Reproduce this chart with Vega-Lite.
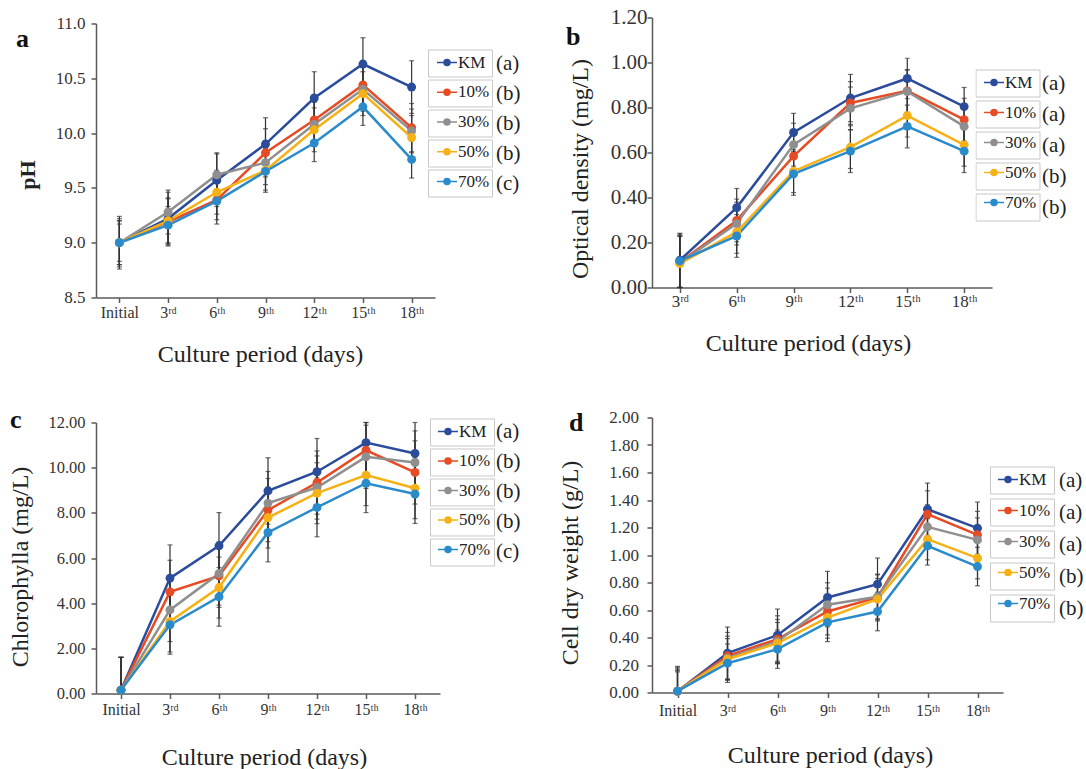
{
  "$schema": "https://vega.github.io/schema/vega-lite/v6.json",
  "background": "white",
  "padding": {"left": 8, "top": 6.5, "right": 5, "bottom": 5},
  "config": {
    "font": "Liberation Serif",
    "view": {"stroke": null},
    "axis": {"grid": false, "domainColor": "#5a5a5a", "domainWidth": 1.5, "tickColor": "#5a5a5a", "tickWidth": 1.5, "tickSize": 5, "labelFont": "Liberation Serif", "labelColor": "#333333", "titleFont": "Liberation Serif", "titleFontWeight": "normal", "titleColor": "#222222"},
    "legend": {"labelFont": "Liberation Serif", "labelColor": "#222222"},
    "title": {"font": "Liberation Serif"}
  },
  "datasets": {
    "pa": [
      {"day":"Initial","series":"KM","tag":"KM|(a)","v":9.00,"lo":8.76,"hi":9.24},
      {"day":"3ʳᵈ","series":"KM","tag":"KM|(a)","v":9.22,"lo":8.98,"hi":9.46},
      {"day":"6ᵗʰ","series":"KM","tag":"KM|(a)","v":9.57,"lo":9.33,"hi":9.81},
      {"day":"9ᵗʰ","series":"KM","tag":"KM|(a)","v":9.90,"lo":9.66,"hi":10.14},
      {"day":"12ᵗʰ","series":"KM","tag":"KM|(a)","v":10.32,"lo":10.08,"hi":10.56},
      {"day":"15ᵗʰ","series":"KM","tag":"KM|(a)","v":10.63,"lo":10.39,"hi":10.87},
      {"day":"18ᵗʰ","series":"KM","tag":"KM|(a)","v":10.42,"lo":10.18,"hi":10.66},
      {"day":"Initial","series":"10%","tag":"10%|(b)","v":9.00,"lo":8.78,"hi":9.22},
      {"day":"3ʳᵈ","series":"10%","tag":"10%|(b)","v":9.19,"lo":8.97,"hi":9.41},
      {"day":"6ᵗʰ","series":"10%","tag":"10%|(b)","v":9.39,"lo":9.17,"hi":9.61},
      {"day":"9ᵗʰ","series":"10%","tag":"10%|(b)","v":9.82,"lo":9.60,"hi":10.04},
      {"day":"12ᵗʰ","series":"10%","tag":"10%|(b)","v":10.12,"lo":9.90,"hi":10.34},
      {"day":"15ᵗʰ","series":"10%","tag":"10%|(b)","v":10.44,"lo":10.22,"hi":10.66},
      {"day":"18ᵗʰ","series":"10%","tag":"10%|(b)","v":10.05,"lo":9.83,"hi":10.27},
      {"day":"Initial","series":"30%","tag":"30%|(b)","v":9.00,"lo":8.80,"hi":9.20},
      {"day":"3ʳᵈ","series":"30%","tag":"30%|(b)","v":9.28,"lo":9.08,"hi":9.48},
      {"day":"6ᵗʰ","series":"30%","tag":"30%|(b)","v":9.62,"lo":9.42,"hi":9.82},
      {"day":"9ᵗʰ","series":"30%","tag":"30%|(b)","v":9.73,"lo":9.53,"hi":9.93},
      {"day":"12ᵗʰ","series":"30%","tag":"30%|(b)","v":10.08,"lo":9.88,"hi":10.28},
      {"day":"15ᵗʰ","series":"30%","tag":"30%|(b)","v":10.40,"lo":10.20,"hi":10.60},
      {"day":"18ᵗʰ","series":"30%","tag":"30%|(b)","v":10.02,"lo":9.82,"hi":10.22},
      {"day":"Initial","series":"50%","tag":"50%|(b)","v":9.00,"lo":8.80,"hi":9.20},
      {"day":"3ʳᵈ","series":"50%","tag":"50%|(b)","v":9.20,"lo":9.00,"hi":9.40},
      {"day":"6ᵗʰ","series":"50%","tag":"50%|(b)","v":9.46,"lo":9.26,"hi":9.66},
      {"day":"9ᵗʰ","series":"50%","tag":"50%|(b)","v":9.66,"lo":9.46,"hi":9.86},
      {"day":"12ᵗʰ","series":"50%","tag":"50%|(b)","v":10.03,"lo":9.83,"hi":10.23},
      {"day":"15ᵗʰ","series":"50%","tag":"50%|(b)","v":10.36,"lo":10.16,"hi":10.56},
      {"day":"18ᵗʰ","series":"50%","tag":"50%|(b)","v":9.96,"lo":9.76,"hi":10.16},
      {"day":"Initial","series":"70%","tag":"70%|(c)","v":9.00,"lo":8.83,"hi":9.17},
      {"day":"3ʳᵈ","series":"70%","tag":"70%|(c)","v":9.16,"lo":8.99,"hi":9.33},
      {"day":"6ᵗʰ","series":"70%","tag":"70%|(c)","v":9.38,"lo":9.21,"hi":9.55},
      {"day":"9ᵗʰ","series":"70%","tag":"70%|(c)","v":9.65,"lo":9.48,"hi":9.82},
      {"day":"12ᵗʰ","series":"70%","tag":"70%|(c)","v":9.91,"lo":9.74,"hi":10.08},
      {"day":"15ᵗʰ","series":"70%","tag":"70%|(c)","v":10.24,"lo":10.07,"hi":10.41},
      {"day":"18ᵗʰ","series":"70%","tag":"70%|(c)","v":9.76,"lo":9.59,"hi":9.93}
    ],
    "pb": [
      {"day":"3ʳᵈ","series":"KM","tag":"KM|(a)","v":0.121,"lo":0.001,"hi":0.241},
      {"day":"6ᵗʰ","series":"KM","tag":"KM|(a)","v":0.355,"lo":0.27,"hi":0.44},
      {"day":"9ᵗʰ","series":"KM","tag":"KM|(a)","v":0.689,"lo":0.604,"hi":0.774},
      {"day":"12ᵗʰ","series":"KM","tag":"KM|(a)","v":0.842,"lo":0.737,"hi":0.947},
      {"day":"15ᵗʰ","series":"KM","tag":"KM|(a)","v":0.929,"lo":0.839,"hi":1.019},
      {"day":"18ᵗʰ","series":"KM","tag":"KM|(a)","v":0.804,"lo":0.719,"hi":0.889},
      {"day":"3ʳᵈ","series":"10%","tag":"10%|(a)","v":0.112,"lo":0.0,"hi":0.232},
      {"day":"6ᵗʰ","series":"10%","tag":"10%|(a)","v":0.298,"lo":0.203,"hi":0.393},
      {"day":"9ᵗʰ","series":"10%","tag":"10%|(a)","v":0.584,"lo":0.489,"hi":0.679},
      {"day":"12ᵗʰ","series":"10%","tag":"10%|(a)","v":0.820,"lo":0.725,"hi":0.915},
      {"day":"15ᵗʰ","series":"10%","tag":"10%|(a)","v":0.874,"lo":0.779,"hi":0.969},
      {"day":"18ᵗʰ","series":"10%","tag":"10%|(a)","v":0.746,"lo":0.651,"hi":0.841},
      {"day":"3ʳᵈ","series":"30%","tag":"30%|(a)","v":0.110,"lo":0.0,"hi":0.23},
      {"day":"6ᵗʰ","series":"30%","tag":"30%|(a)","v":0.284,"lo":0.189,"hi":0.379},
      {"day":"9ᵗʰ","series":"30%","tag":"30%|(a)","v":0.635,"lo":0.54,"hi":0.73},
      {"day":"12ᵗʰ","series":"30%","tag":"30%|(a)","v":0.796,"lo":0.701,"hi":0.891},
      {"day":"15ᵗʰ","series":"30%","tag":"30%|(a)","v":0.871,"lo":0.776,"hi":0.966},
      {"day":"18ᵗʰ","series":"30%","tag":"30%|(a)","v":0.716,"lo":0.621,"hi":0.811},
      {"day":"3ʳᵈ","series":"50%","tag":"50%|(b)","v":0.106,"lo":0.0,"hi":0.226},
      {"day":"6ᵗʰ","series":"50%","tag":"50%|(b)","v":0.247,"lo":0.152,"hi":0.342},
      {"day":"9ᵗʰ","series":"50%","tag":"50%|(b)","v":0.517,"lo":0.422,"hi":0.612},
      {"day":"12ᵗʰ","series":"50%","tag":"50%|(b)","v":0.624,"lo":0.529,"hi":0.719},
      {"day":"15ᵗʰ","series":"50%","tag":"50%|(b)","v":0.764,"lo":0.669,"hi":0.859},
      {"day":"18ᵗʰ","series":"50%","tag":"50%|(b)","v":0.634,"lo":0.539,"hi":0.729},
      {"day":"3ʳᵈ","series":"70%","tag":"70%|(b)","v":0.118,"lo":0.0,"hi":0.238},
      {"day":"6ᵗʰ","series":"70%","tag":"70%|(b)","v":0.229,"lo":0.134,"hi":0.324},
      {"day":"9ᵗʰ","series":"70%","tag":"70%|(b)","v":0.505,"lo":0.41,"hi":0.6},
      {"day":"12ᵗʰ","series":"70%","tag":"70%|(b)","v":0.606,"lo":0.511,"hi":0.701},
      {"day":"15ᵗʰ","series":"70%","tag":"70%|(b)","v":0.716,"lo":0.621,"hi":0.811},
      {"day":"18ᵗʰ","series":"70%","tag":"70%|(b)","v":0.606,"lo":0.511,"hi":0.701}
    ],
    "pc": [
      {"day":"Initial","series":"KM","tag":"KM|(a)","v":0.15,"lo":0.0,"hi":1.6},
      {"day":"3ʳᵈ","series":"KM","tag":"KM|(a)","v":5.11,"lo":3.64,"hi":6.58},
      {"day":"6ᵗʰ","series":"KM","tag":"KM|(a)","v":6.54,"lo":5.07,"hi":8.01},
      {"day":"9ᵗʰ","series":"KM","tag":"KM|(a)","v":8.97,"lo":7.5,"hi":10.44},
      {"day":"12ᵗʰ","series":"KM","tag":"KM|(a)","v":9.82,"lo":8.35,"hi":11.29},
      {"day":"15ᵗʰ","series":"KM","tag":"KM|(a)","v":11.11,"lo":9.64,"hi":12.0},
      {"day":"18ᵗʰ","series":"KM","tag":"KM|(a)","v":10.63,"lo":9.16,"hi":12.0},
      {"day":"Initial","series":"10%","tag":"10%|(b)","v":0.15,"lo":0.0,"hi":1.6},
      {"day":"3ʳᵈ","series":"10%","tag":"10%|(b)","v":4.50,"lo":3.1,"hi":5.9},
      {"day":"6ᵗʰ","series":"10%","tag":"10%|(b)","v":5.21,"lo":3.81,"hi":6.61},
      {"day":"9ᵗʰ","series":"10%","tag":"10%|(b)","v":8.12,"lo":6.72,"hi":9.52},
      {"day":"12ᵗʰ","series":"10%","tag":"10%|(b)","v":9.34,"lo":7.94,"hi":10.74},
      {"day":"15ᵗʰ","series":"10%","tag":"10%|(b)","v":10.77,"lo":9.37,"hi":12.0},
      {"day":"18ᵗʰ","series":"10%","tag":"10%|(b)","v":9.79,"lo":8.39,"hi":11.19},
      {"day":"Initial","series":"30%","tag":"30%|(b)","v":0.15,"lo":0.0,"hi":1.6},
      {"day":"3ʳᵈ","series":"30%","tag":"30%|(b)","v":3.70,"lo":2.3,"hi":5.1},
      {"day":"6ᵗʰ","series":"30%","tag":"30%|(b)","v":5.31,"lo":3.91,"hi":6.71},
      {"day":"9ᵗʰ","series":"30%","tag":"30%|(b)","v":8.43,"lo":7.03,"hi":9.83},
      {"day":"12ᵗʰ","series":"30%","tag":"30%|(b)","v":9.12,"lo":7.72,"hi":10.52},
      {"day":"15ᵗʰ","series":"30%","tag":"30%|(b)","v":10.48,"lo":9.08,"hi":11.88},
      {"day":"18ᵗʰ","series":"30%","tag":"30%|(b)","v":10.23,"lo":8.83,"hi":11.63},
      {"day":"Initial","series":"50%","tag":"50%|(b)","v":0.15,"lo":0.0,"hi":1.6},
      {"day":"3ʳᵈ","series":"50%","tag":"50%|(b)","v":3.19,"lo":1.84,"hi":4.54},
      {"day":"6ᵗʰ","series":"50%","tag":"50%|(b)","v":4.69,"lo":3.34,"hi":6.04},
      {"day":"9ᵗʰ","series":"50%","tag":"50%|(b)","v":7.79,"lo":6.44,"hi":9.14},
      {"day":"12ᵗʰ","series":"50%","tag":"50%|(b)","v":8.87,"lo":7.52,"hi":10.22},
      {"day":"15ᵗʰ","series":"50%","tag":"50%|(b)","v":9.67,"lo":8.32,"hi":11.02},
      {"day":"18ᵗʰ","series":"50%","tag":"50%|(b)","v":9.09,"lo":7.74,"hi":10.44},
      {"day":"Initial","series":"70%","tag":"70%|(c)","v":0.15,"lo":0.0,"hi":1.6},
      {"day":"3ʳᵈ","series":"70%","tag":"70%|(c)","v":3.04,"lo":1.74,"hi":4.34},
      {"day":"6ᵗʰ","series":"70%","tag":"70%|(c)","v":4.28,"lo":2.98,"hi":5.58},
      {"day":"9ᵗʰ","series":"70%","tag":"70%|(c)","v":7.13,"lo":5.83,"hi":8.43},
      {"day":"12ᵗʰ","series":"70%","tag":"70%|(c)","v":8.24,"lo":6.94,"hi":9.54},
      {"day":"15ᵗʰ","series":"70%","tag":"70%|(c)","v":9.31,"lo":8.01,"hi":10.61},
      {"day":"18ᵗʰ","series":"70%","tag":"70%|(c)","v":8.83,"lo":7.53,"hi":10.13}
    ],
    "pd": [
      {"day":"Initial","series":"KM","tag":"KM|(a)","v":0.01,"lo":0.0,"hi":0.19},
      {"day":"3ʳᵈ","series":"KM","tag":"KM|(a)","v":0.286,"lo":0.096,"hi":0.476},
      {"day":"6ᵗʰ","series":"KM","tag":"KM|(a)","v":0.417,"lo":0.227,"hi":0.607},
      {"day":"9ᵗʰ","series":"KM","tag":"KM|(a)","v":0.691,"lo":0.501,"hi":0.881},
      {"day":"12ᵗʰ","series":"KM","tag":"KM|(a)","v":0.788,"lo":0.598,"hi":0.978},
      {"day":"15ᵗʰ","series":"KM","tag":"KM|(a)","v":1.333,"lo":1.143,"hi":1.523},
      {"day":"18ᵗʰ","series":"KM","tag":"KM|(a)","v":1.195,"lo":1.005,"hi":1.385},
      {"day":"Initial","series":"10%","tag":"10%|(a)","v":0.01,"lo":0.0,"hi":0.18},
      {"day":"3ʳᵈ","series":"10%","tag":"10%|(a)","v":0.267,"lo":0.097,"hi":0.437},
      {"day":"6ᵗʰ","series":"10%","tag":"10%|(a)","v":0.388,"lo":0.218,"hi":0.558},
      {"day":"9ᵗʰ","series":"10%","tag":"10%|(a)","v":0.589,"lo":0.419,"hi":0.759},
      {"day":"12ᵗʰ","series":"10%","tag":"10%|(a)","v":0.691,"lo":0.521,"hi":0.861},
      {"day":"15ᵗʰ","series":"10%","tag":"10%|(a)","v":1.297,"lo":1.127,"hi":1.467},
      {"day":"18ᵗʰ","series":"10%","tag":"10%|(a)","v":1.147,"lo":0.977,"hi":1.317},
      {"day":"Initial","series":"30%","tag":"30%|(a)","v":0.01,"lo":0.0,"hi":0.17},
      {"day":"3ʳᵈ","series":"30%","tag":"30%|(a)","v":0.25,"lo":0.09,"hi":0.41},
      {"day":"6ᵗʰ","series":"30%","tag":"30%|(a)","v":0.371,"lo":0.211,"hi":0.531},
      {"day":"9ᵗʰ","series":"30%","tag":"30%|(a)","v":0.638,"lo":0.478,"hi":0.798},
      {"day":"12ᵗʰ","series":"30%","tag":"30%|(a)","v":0.696,"lo":0.536,"hi":0.856},
      {"day":"15ᵗʰ","series":"30%","tag":"30%|(a)","v":1.205,"lo":1.045,"hi":1.365},
      {"day":"18ᵗʰ","series":"30%","tag":"30%|(a)","v":1.11,"lo":0.95,"hi":1.27},
      {"day":"Initial","series":"50%","tag":"50%|(b)","v":0.01,"lo":0.0,"hi":0.16},
      {"day":"3ʳᵈ","series":"50%","tag":"50%|(b)","v":0.242,"lo":0.092,"hi":0.392},
      {"day":"6ᵗʰ","series":"50%","tag":"50%|(b)","v":0.359,"lo":0.209,"hi":0.509},
      {"day":"9ᵗʰ","series":"50%","tag":"50%|(b)","v":0.545,"lo":0.395,"hi":0.695},
      {"day":"12ᵗʰ","series":"50%","tag":"50%|(b)","v":0.679,"lo":0.529,"hi":0.829},
      {"day":"15ᵗʰ","series":"50%","tag":"50%|(b)","v":1.115,"lo":0.965,"hi":1.265},
      {"day":"18ᵗʰ","series":"50%","tag":"50%|(b)","v":0.977,"lo":0.827,"hi":1.127},
      {"day":"Initial","series":"70%","tag":"70%|(b)","v":0.01,"lo":0.0,"hi":0.15},
      {"day":"3ʳᵈ","series":"70%","tag":"70%|(b)","v":0.213,"lo":0.073,"hi":0.353},
      {"day":"6ᵗʰ","series":"70%","tag":"70%|(b)","v":0.315,"lo":0.175,"hi":0.455},
      {"day":"9ᵗʰ","series":"70%","tag":"70%|(b)","v":0.51,"lo":0.37,"hi":0.65},
      {"day":"12ᵗʰ","series":"70%","tag":"70%|(b)","v":0.589,"lo":0.449,"hi":0.729},
      {"day":"15ᵗʰ","series":"70%","tag":"70%|(b)","v":1.067,"lo":0.927,"hi":1.207},
      {"day":"18ᵗʰ","series":"70%","tag":"70%|(b)","v":0.916,"lo":0.776,"hi":1.056}
    ]
  },
  "columns": 2,
  "align": "each",
  "spacing": {"row": 120, "column": 212},
  "bounds": "flush",
  "resolve": {"scale": {"color": "independent", "shape": "independent"}, "legend": {"color": "independent", "shape": "independent"}},
  "concat": [
    {
      "width": 339, "height": 280,
      "data": {"name": "pa"},
      "title": {"text": "a", "anchor": "start", "frame": "group", "fontSize": 26, "fontWeight": "bold", "baseline": "alphabetic", "offset": 0, "dx": -80, "dy": 58, "color": "#111111"},
      "encoding": {
        "x": {"field": "day", "type": "ordinal", "scale": {"type": "point", "padding": 0.48, "domain": ["Initial","3ʳᵈ","6ᵗʰ","9ᵗʰ","12ᵗʰ","15ᵗʰ","18ᵗʰ"]}, "axis": {"title": "Culture period (days)", "labelAngle": 0, "labelFontSize": 16, "labelPadding": 2, "titleFontSize": 24, "titleX": 164, "titleY": 64, "titleBaseline": "alphabetic"}},
        "y": {"field": "v", "type": "quantitative", "title": "pH", "scale": {"domain": [8.5, 11], "range": [280, 6], "nice": false, "zero": false}, "axis": {"values": [8.5, 9, 9.5, 10, 10.5, 11], "format": ".1f", "labelFontSize": 17, "labelPadding": 6, "titleFontWeight": "bold", "titleFontSize": 22, "titleX": -69, "titleY": 157, "titleBaseline": "middle", "titleAngle": 270, "titleAlign": "center"}}
      },
      "layer": [
        {"mark": {"type": "point", "opacity": 0, "filled": false, "color": "#c8c8c8", "strokeWidth": 1},
          "encoding": {"shape": {"field": "tag", "type": "nominal", "scale": {"domain": ["KM|(a)","10%|(b)","30%|(b)","50%|(b)","70%|(c)"], "range": ["M-2.37,-1H2.37V1H-2.37Z","M-2.37,-1H2.37V1H-2.37Z","M-2.37,-1H2.37V1H-2.37Z","M-2.37,-1H2.37V1H-2.37Z","M-2.37,-1H2.37V1H-2.37Z"]},
            "legend": {"title": null, "orient": "none", "direction": "vertical", "legendX": 332, "legendY": 31, "padding": 0, "rowPadding": 0, "clipHeight": 30, "symbolOffset": 18.5, "labelOffset": 21.5, "labelFontSize": 21, "labelExpr": "split(datum.label, '|')[1]", "symbolSize": 729, "symbolStrokeWidth": 1, "symbolStrokeColor": "#c8c8c8", "symbolFillColor": "transparent", "symbolOpacity": 1}}}},
        {"mark": {"type": "line", "strokeWidth": 2.5}, "encoding": {"color": {"field": "series", "type": "nominal", "scale": {"domain": ["KM","10%","30%","50%","70%"], "range": ["#2b4c9b","#e64b26","#8f8f8f","#f5b115","#2a8bcb"]},
          "legend": {"title": null, "orient": "none", "direction": "vertical", "legendX": 340, "legendY": 34, "padding": 0, "rowPadding": 10.75, "labelOffset": 0, "labelFontSize": 17, "symbolType": "M-1,0H1M-0.3,0A0.3,0.3,0,1,0,0.3,0A0.3,0.3,0,1,0,-0.3,0M-0.2,0A0.2,0.2,0,1,0,0.2,0A0.2,0.2,0,1,0,-0.2,0M-0.1,0A0.1,0.1,0,1,0,0.1,0A0.1,0.1,0,1,0,-0.1,0", "symbolSize": 400, "symbolStrokeWidth": 1.5, "symbolOpacity": 1}}}},
        {"mark": {"type": "errorbar", "ticks": true, "size": 5, "thickness": 1.2, "color": "#333333"}, "encoding": {"y": {"field": "lo", "type": "quantitative", "title": "pH"}, "y2": {"field": "hi"}}},
        {"mark": {"type": "point", "filled": true, "size": 80, "opacity": 1}, "encoding": {"color": {"field": "series", "type": "nominal", "legend": null}}}
      ]
    },
    {
      "width": 340, "height": 270,
      "data": {"name": "pb"},
      "title": {"text": "b", "anchor": "start", "frame": "group", "fontSize": 26, "fontWeight": "bold", "baseline": "alphabetic", "offset": 0, "dx": -86, "dy": 64, "color": "#111111"},
      "encoding": {
        "x": {"field": "day", "type": "ordinal", "scale": {"type": "point", "padding": 0.49, "domain": ["3ʳᵈ","6ᵗʰ","9ᵗʰ","12ᵗʰ","15ᵗʰ","18ᵗʰ"]}, "axis": {"title": "Culture period (days)", "labelAngle": 0, "labelFontSize": 17, "labelPadding": 1, "titleFontSize": 24, "titleX": 156, "titleY": 63, "titleBaseline": "alphabetic"}},
        "y": {"field": "v", "type": "quantitative", "title": "Optical density (mg/L)", "scale": {"domain": [0, 1.2], "nice": false, "zero": false}, "axis": {"values": [0, 0.2, 0.4, 0.6, 0.8, 1.0, 1.2], "format": ".2f", "labelFontSize": 21, "labelPadding": 0, "titleFontSize": 24, "titleX": -72, "titleY": 151, "titleBaseline": "middle", "titleAngle": 270, "titleAlign": "center"}}
      },
      "layer": [
        {"mark": {"type": "point", "opacity": 0, "filled": false, "color": "#c8c8c8", "strokeWidth": 1},
          "encoding": {"shape": {"field": "tag", "type": "nominal", "scale": {"domain": ["KM|(a)","10%|(a)","30%|(a)","50%|(b)","70%|(b)"], "range": ["M-2.37,-1H2.37V1H-2.37Z","M-2.37,-1H2.37V1H-2.37Z","M-2.37,-1H2.37V1H-2.37Z","M-2.37,-1H2.37V1H-2.37Z","M-2.37,-1H2.37V1H-2.37Z"]},
            "legend": {"title": null, "orient": "none", "direction": "vertical", "legendX": 323.5, "legendY": 50.9, "padding": 0, "rowPadding": 0, "clipHeight": 30.25, "symbolOffset": 18.5, "labelOffset": 20, "labelFontSize": 21, "labelExpr": "split(datum.label, '|')[1]", "symbolSize": 729, "symbolStrokeWidth": 1, "symbolStrokeColor": "#c8c8c8", "symbolFillColor": "transparent", "symbolOpacity": 1}}}},
        {"mark": {"type": "line", "strokeWidth": 2.5}, "encoding": {"color": {"field": "series", "type": "nominal", "scale": {"domain": ["KM","10%","30%","50%","70%"], "range": ["#2b4c9b","#e64b26","#8f8f8f","#f5b115","#2a8bcb"]},
          "legend": {"title": null, "orient": "none", "direction": "vertical", "legendX": 331, "legendY": 54, "padding": 0, "rowPadding": 11, "labelOffset": 0, "labelFontSize": 17, "symbolType": "M-1,0H1M-0.3,0A0.3,0.3,0,1,0,0.3,0A0.3,0.3,0,1,0,-0.3,0M-0.2,0A0.2,0.2,0,1,0,0.2,0A0.2,0.2,0,1,0,-0.2,0M-0.1,0A0.1,0.1,0,1,0,0.1,0A0.1,0.1,0,1,0,-0.1,0", "symbolSize": 400, "symbolStrokeWidth": 1.5, "symbolOpacity": 1}}}},
        {"mark": {"type": "errorbar", "ticks": true, "size": 5, "thickness": 1.2, "color": "#333333"}, "encoding": {"y": {"field": "lo", "type": "quantitative", "title": "Optical density (mg/L)"}, "y2": {"field": "hi"}}},
        {"mark": {"type": "point", "filled": true, "size": 80, "opacity": 1}, "encoding": {"color": {"field": "series", "type": "nominal", "legend": null}}}
      ]
    },
    {
      "width": 344, "height": 276,
      "data": {"name": "pc"},
      "title": {"text": "c", "anchor": "start", "frame": "group", "fontSize": 26, "fontWeight": "bold", "baseline": "alphabetic", "offset": 0, "dx": -86, "dy": 39, "color": "#111111"},
      "encoding": {
        "x": {"field": "day", "type": "ordinal", "scale": {"type": "point", "padding": 0.51, "domain": ["Initial","3ʳᵈ","6ᵗʰ","9ᵗʰ","12ᵗʰ","15ᵗʰ","18ᵗʰ"]}, "axis": {"title": "Culture period (days)", "labelAngle": 0, "labelFontSize": 16, "labelPadding": 3, "titleFontSize": 24, "titleX": 168, "titleY": 71, "titleBaseline": "alphabetic"}},
        "y": {"field": "v", "type": "quantitative", "title": "Chlorophylla (mg/L)", "scale": {"domain": [0, 12], "range": [276, 5], "nice": false, "zero": false}, "axis": {"values": [0, 2, 4, 6, 8, 10, 12], "format": ".2f", "labelFontSize": 16.5, "labelPadding": 6, "titleFontSize": 24, "titleX": -76, "titleY": 149, "titleBaseline": "middle", "titleAngle": 270, "titleAlign": "center"}}
      },
      "layer": [
        {"mark": {"type": "point", "opacity": 0, "filled": false, "color": "#c8c8c8", "strokeWidth": 1},
          "encoding": {"shape": {"field": "tag", "type": "nominal", "scale": {"domain": ["KM|(a)","10%|(b)","30%|(b)","50%|(b)","70%|(c)"], "range": ["M-2.37,-1H2.37V1H-2.37Z","M-2.37,-1H2.37V1H-2.37Z","M-2.37,-1H2.37V1H-2.37Z","M-2.37,-1H2.37V1H-2.37Z","M-2.37,-1H2.37V1H-2.37Z"]},
            "legend": {"title": null, "orient": "none", "direction": "vertical", "legendX": 334, "legendY": 0.1, "padding": 0, "rowPadding": 0, "clipHeight": 29.75, "symbolOffset": 18.5, "labelOffset": 19.5, "labelFontSize": 21, "labelExpr": "split(datum.label, '|')[1]", "symbolSize": 729, "symbolStrokeWidth": 1, "symbolStrokeColor": "#c8c8c8", "symbolFillColor": "transparent", "symbolOpacity": 1}}}},
        {"mark": {"type": "line", "strokeWidth": 2.5}, "encoding": {"color": {"field": "series", "type": "nominal", "scale": {"domain": ["KM","10%","30%","50%","70%"], "range": ["#2b4c9b","#e64b26","#8f8f8f","#f5b115","#2a8bcb"]},
          "legend": {"title": null, "orient": "none", "direction": "vertical", "legendX": 341, "legendY": 3, "padding": 0, "rowPadding": 10.5, "labelOffset": 0, "labelFontSize": 17, "symbolType": "M-1,0H1M-0.3,0A0.3,0.3,0,1,0,0.3,0A0.3,0.3,0,1,0,-0.3,0M-0.2,0A0.2,0.2,0,1,0,0.2,0A0.2,0.2,0,1,0,-0.2,0M-0.1,0A0.1,0.1,0,1,0,0.1,0A0.1,0.1,0,1,0,-0.1,0", "symbolSize": 400, "symbolStrokeWidth": 1.5, "symbolOpacity": 1}}}},
        {"mark": {"type": "errorbar", "ticks": true, "size": 5, "thickness": 1.2, "color": "#333333"}, "encoding": {"y": {"field": "lo", "type": "quantitative", "title": "Chlorophylla (mg/L)"}, "y2": {"field": "hi"}}},
        {"mark": {"type": "point", "filled": true, "size": 80, "opacity": 1}, "encoding": {"color": {"field": "series", "type": "nominal", "legend": null}}}
      ]
    },
    {
      "width": 351, "height": 275,
      "data": {"name": "pd"},
      "title": {"text": "d", "anchor": "start", "frame": "group", "fontSize": 26, "fontWeight": "bold", "baseline": "alphabetic", "offset": 0, "dx": -83, "dy": 48, "color": "#111111"},
      "encoding": {
        "x": {"field": "day", "type": "ordinal", "scale": {"type": "point", "padding": 0.51, "domain": ["Initial","3ʳᵈ","6ᵗʰ","9ᵗʰ","12ᵗʰ","15ᵗʰ","18ᵗʰ"]}, "axis": {"title": "Culture period (days)", "labelAngle": 0, "labelFontSize": 16, "labelPadding": 5, "titleFontSize": 24, "titleX": 178, "titleY": 70, "titleBaseline": "alphabetic"}},
        "y": {"field": "v", "type": "quantitative", "title": "Cell dry weight (g/L)", "scale": {"domain": [0, 2], "nice": false, "zero": false}, "axis": {"values": [0, 0.2, 0.4, 0.6, 0.8, 1.0, 1.2, 1.4, 1.6, 1.8, 2.0], "format": ".2f", "labelFontSize": 17, "labelPadding": 8.5, "titleFontSize": 24, "titleX": -82, "titleY": 145, "titleBaseline": "middle", "titleAngle": 270, "titleAlign": "center"}}
      },
      "layer": [
        {"mark": {"type": "point", "opacity": 0, "filled": false, "color": "#c8c8c8", "strokeWidth": 1},
          "encoding": {"shape": {"field": "tag", "type": "nominal", "scale": {"domain": ["KM|(a)","10%|(a)","30%|(a)","50%|(b)","70%|(b)"], "range": ["M-2.37,-1H2.37V1H-2.37Z","M-2.37,-1H2.37V1H-2.37Z","M-2.37,-1H2.37V1H-2.37Z","M-2.37,-1H2.37V1H-2.37Z","M-2.37,-1H2.37V1H-2.37Z"]},
            "legend": {"title": null, "orient": "none", "direction": "vertical", "legendX": 338, "legendY": 47.4, "padding": 0, "rowPadding": 0, "clipHeight": 31.25, "symbolOffset": 18.5, "labelOffset": 22.5, "labelFontSize": 21, "labelExpr": "split(datum.label, '|')[1]", "symbolSize": 729, "symbolStrokeWidth": 1, "symbolStrokeColor": "#c8c8c8", "symbolFillColor": "transparent", "symbolOpacity": 1}}}},
        {"mark": {"type": "line", "strokeWidth": 2.5}, "encoding": {"color": {"field": "series", "type": "nominal", "scale": {"domain": ["KM","10%","30%","50%","70%"], "range": ["#2b4c9b","#e64b26","#8f8f8f","#f5b115","#2a8bcb"]},
          "legend": {"title": null, "orient": "none", "direction": "vertical", "legendX": 345, "legendY": 51, "padding": 0, "rowPadding": 12, "labelOffset": 0, "labelFontSize": 17, "symbolType": "M-1,0H1M-0.3,0A0.3,0.3,0,1,0,0.3,0A0.3,0.3,0,1,0,-0.3,0M-0.2,0A0.2,0.2,0,1,0,0.2,0A0.2,0.2,0,1,0,-0.2,0M-0.1,0A0.1,0.1,0,1,0,0.1,0A0.1,0.1,0,1,0,-0.1,0", "symbolSize": 400, "symbolStrokeWidth": 1.5, "symbolOpacity": 1}}}},
        {"mark": {"type": "errorbar", "ticks": true, "size": 5, "thickness": 1.2, "color": "#333333"}, "encoding": {"y": {"field": "lo", "type": "quantitative", "title": "Cell dry weight (g/L)"}, "y2": {"field": "hi"}}},
        {"mark": {"type": "point", "filled": true, "size": 80, "opacity": 1}, "encoding": {"color": {"field": "series", "type": "nominal", "legend": null}}}
      ]
    }
  ]
}
